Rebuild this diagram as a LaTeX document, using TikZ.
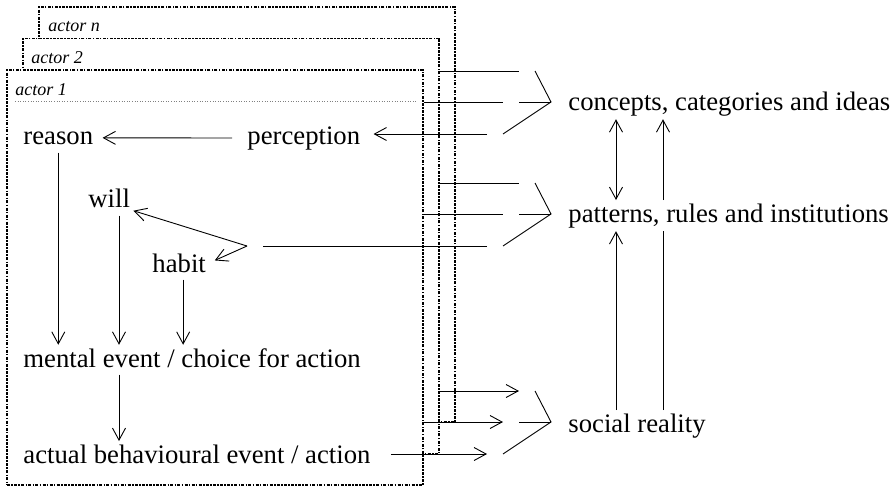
\documentclass[tikz,border=0pt]{standalone}
\usepackage{fontspec}
\setmainfont{Liberation Serif}
\usetikzlibrary{arrows.meta}

\tikzset{
  actorbox/.style={draw, fill=white, line width=1.5pt, dash pattern=on 3pt off 1.3pt on 1.5pt off 1.3pt, minimum width=416pt, minimum height=415pt, inner sep=0pt},
  actorlabel/.style={anchor=base west, inner sep=0pt, font=\fontsize{18}{21}\selectfont\itshape},
  item/.style={anchor=base west, inner sep=3pt, font=\fontsize{26.7}{32}\selectfont},
}

\begin{document}
\begin{tikzpicture}[x=1pt, y=-1pt, line width=0.9pt, >={Straight Barb[length=12pt,width=13pt]}]
      \useasboundingbox (0,0) rectangle (890,488);
      \node[actorbox] (actorn) at (247,214.5) {};
      \node[actorbox] (actor2) at (231,246) {};
      \node[actorbox] (actor1) at (215,277.5) {};
      \node[actorlabel] (labeln) at (48,31) {actor n};
      \node[actorlabel] (label2) at (31,63) {actor 2};
      \node[actorlabel] (label1) at (15,95) {actor 1};
      \draw[gray, dotted, line width=0.6pt] (15,101) -- (416,101);
      \node[item] (reason) at (20,144) {reason};
      \node[item] (perception) at (244,144) {perception};
      \node[item] (will) at (85,207) {will};
      \node[item] (habit) at (149,272) {habit};
      \node[item] (mental) at (20,367) {mental event / choice for action};
      \node[item] (actual) at (20,463) {actual behavioural event / action};
      \node[item] (concepts) at (565,110) {concepts, categories and ideas};
      \node[item] (patterns) at (565,222) {patterns, rules and institutions};
      \node[item] (social) at (565,432) {social reality};
      \coordinate (col) at (119,0);
      \coordinate (lcol) at (616,0);
      \coordinate (rcol) at (663,0);
      \coordinate (fork) at (247,246);
      \coordinate (cjoin) at (551,102);
      \coordinate (pjoin) at (551,214);
      \coordinate (sjoin) at (551,422);
      \foreach \g in {c,p,s} {
        \coordinate (\g top) at ([shift={(-32,-31)}]\g join);
        \coordinate (\g mid) at ([shift={(-48,0)}]\g join);
        \coordinate (\g low) at ([shift={(-64,32)}]\g join);
        \draw ([shift={(-16,-31)}]\g join) -- (\g join) -- ([shift={(-48,32)}]\g join);
        \draw ([shift={(-32,0)}]\g join) -- (\g join);
      }
      \draw[->, shorten <=12pt, shorten >=6pt] (perception.west) -- (reason.east);
      \draw[->, shorten <=5pt] (reason.south) -- (reason.south |- mental.north);
      \draw[->, shorten <=5pt] (will.south -| col) -- (mental.north -| col);
      \draw[->, shorten <=4pt] ([xshift=4pt]habit.south) -- ([xshift=4pt]habit.south |- mental.north);
      \draw[->, shorten <=4pt] (mental.south -| col) -- (actual.north -| col);
      \draw[->] (fork) -- (will.south east);
      \draw[->, shorten >=6pt] (fork) -- (habit.east);
      \draw (ctop -| actor2.east) -- (ctop);
      \draw (cmid -| actor1.east) -- (cmid);
      \draw[->, shorten >=10pt] (clow) -- (perception.east |- clow);
      \draw (ptop -| actor2.east) -- (ptop);
      \draw (pmid -| actor1.east) -- (pmid);
      \draw[shorten >=16pt] (plow) -- (fork);
      \draw[->] (stop -| actor2.east) -- (stop);
      \draw[->] (smid -| actor1.east) -- (smid);
      \draw[->, shorten <=17pt] (actual.east |- slow) -- (slow);
      \draw[<->] (concepts.south -| lcol) -- (patterns.north -| lcol);
      \draw[->] (social.north -| lcol) -- (patterns.south -| lcol);
      \draw (social.north -| rcol) -- (patterns.south -| rcol);
      \draw[->] (patterns.north -| rcol) -- (concepts.south -| rcol);
\end{tikzpicture}
\end{document}
